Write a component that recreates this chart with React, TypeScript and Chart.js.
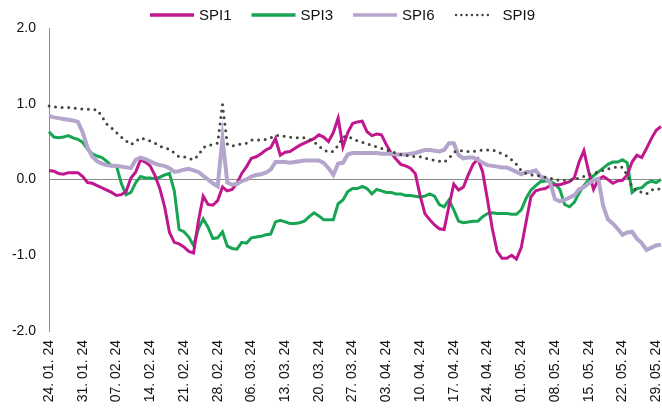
import React, { useEffect, useRef } from "react";
import { Chart, registerables } from "chart.js";

Chart.register(...registerables);

// Daily observations, first day 24.01.2024
const START_YEAR = 2024;
const START_MONTH = 0;
const START_DAY = 24;

const SPI1 = [
  0.12, 0.11, 0.08, 0.07, 0.09, 0.09, 0.09, 0.04, -0.04, -0.05,
  -0.08, -0.11, -0.14, -0.17, -0.21, -0.20, -0.16, 0.02, 0.10, 0.26,
  0.23, 0.18, 0.05, -0.12, -0.36, -0.70, -0.83, -0.85, -0.89, -0.95,
  -0.97, -0.55, -0.22, -0.33, -0.34, -0.28, -0.10, -0.15, -0.13,
  -0.05, 0.08, 0.17, 0.28, 0.30, 0.34, 0.39, 0.42, 0.54, 0.32,
  0.36, 0.37, 0.41, 0.45, 0.48, 0.51, 0.54, 0.59, 0.56, 0.50,
  0.62, 0.81, 0.43, 0.62, 0.74, 0.76, 0.77, 0.63, 0.58, 0.60,
  0.59, 0.46, 0.35, 0.27, 0.20, 0.18, 0.15, 0.08, -0.21, -0.45,
  -0.53, -0.60, -0.65, -0.66, -0.35, -0.06, -0.14, -0.10, 0.06, 0.20,
  0.27, 0.10, -0.27, -0.65, -0.95, -1.04, -1.04, -1.00, -1.05, -0.90,
  -0.56, -0.23, -0.15, -0.13, -0.12, -0.08, -0.07, -0.07, -0.05,
  -0.03, 0.02, 0.23, 0.38, 0.10, -0.13, 0.00, 0.04, 0.00, -0.05,
  -0.02, -0.01, 0.06, 0.23, 0.32, 0.29, 0.41, 0.54, 0.65, 0.70,
];

const SPI3 = [
  0.63, 0.56, 0.55, 0.56, 0.58, 0.55, 0.53, 0.49, 0.40, 0.34,
  0.31, 0.29, 0.24, 0.18, 0.18, -0.05, -0.20, -0.17, -0.04, 0.04,
  0.02, 0.02, 0.01, 0.03, 0.06, 0.08, -0.15, -0.66, -0.69, -0.76,
  -0.87, -0.65, -0.52, -0.63, -0.78, -0.77, -0.69, -0.88, -0.91,
  -0.92, -0.83, -0.84, -0.77, -0.76, -0.75, -0.73, -0.72, -0.56, -0.54,
  -0.56, -0.58, -0.58, -0.57, -0.55, -0.49, -0.44, -0.48, -0.53, -0.53,
  -0.53, -0.32, -0.27, -0.16, -0.12, -0.12, -0.09, -0.12, -0.19, -0.13,
  -0.15, -0.17, -0.17, -0.19, -0.19, -0.21, -0.21, -0.22, -0.23, -0.22,
  -0.19, -0.22, -0.33, -0.36, -0.27, -0.40, -0.55, -0.57, -0.56, -0.55,
  -0.55, -0.49, -0.45, -0.44, -0.45, -0.45, -0.45, -0.46, -0.46, -0.40,
  -0.25, -0.14, -0.08, -0.03, -0.02, -0.02, -0.06, -0.13, -0.33,
  -0.36, -0.30, -0.18, -0.08, 0.00, 0.05, 0.10, 0.15, 0.20, 0.23,
  0.23, 0.26, 0.22, -0.17, -0.12, -0.11, -0.05, -0.02, -0.04, 0.00,
];

const SPI6 = [
  0.84, 0.82, 0.81, 0.80, 0.79, 0.78, 0.76, 0.62, 0.42, 0.30,
  0.24, 0.21, 0.19, 0.18, 0.18, 0.17, 0.16, 0.15, 0.26, 0.29,
  0.27, 0.24, 0.21, 0.19, 0.18, 0.15, 0.10, 0.11, 0.13, 0.14,
  0.12, 0.10, 0.05, 0.00, -0.05, -0.09, 0.54, -0.04, -0.07,
  -0.06, -0.02, 0.00, 0.04, 0.06, 0.07, 0.09, 0.13, 0.23, 0.23,
  0.23, 0.22, 0.23, 0.24, 0.25, 0.25, 0.25, 0.25, 0.22, 0.15,
  0.06, 0.21, 0.22, 0.33, 0.35, 0.35, 0.35, 0.35, 0.35, 0.35,
  0.34, 0.34, 0.34, 0.33, 0.33, 0.33, 0.34, 0.35, 0.37, 0.39,
  0.39, 0.38, 0.37, 0.39, 0.48, 0.48, 0.32, 0.28, 0.29, 0.29,
  0.26, 0.22, 0.19, 0.18, 0.17, 0.16, 0.16, 0.13, 0.10, 0.07,
  0.10, 0.10, 0.12, 0.04, 0.02, -0.04, -0.26, -0.29, -0.27,
  -0.24, -0.21, -0.13, -0.10, -0.05, -0.01, 0.01, -0.35, -0.53, -0.58,
  -0.65, -0.73, -0.70, -0.69, -0.78, -0.84, -0.93, -0.90, -0.87, -0.86,
];

const SPI9 = [
  0.97, 0.96, 0.95, 0.95, 0.95, 0.94, 0.94, 0.93, 0.93, 0.92,
  0.92, 0.83, 0.73, 0.68, 0.62, 0.56, 0.51, 0.46, 0.50, 0.55,
  0.53, 0.51, 0.48, 0.44, 0.42, 0.40, 0.35, 0.30, 0.30, 0.28,
  0.26, 0.32, 0.42, 0.45, 0.46, 0.48, 0.99, 0.47, 0.44,
  0.46, 0.47, 0.48, 0.52, 0.52, 0.52, 0.53, 0.55, 0.58, 0.58,
  0.57, 0.56, 0.55, 0.55, 0.55, 0.53, 0.50, 0.44, 0.39, 0.36,
  0.37, 0.45, 0.56, 0.57, 0.54, 0.51, 0.49, 0.47, 0.45, 0.43,
  0.41, 0.39, 0.37, 0.35, 0.33, 0.32, 0.31, 0.30, 0.30, 0.28,
  0.27, 0.25, 0.24, 0.23, 0.28, 0.36, 0.38, 0.38, 0.37, 0.37,
  0.38, 0.39, 0.39, 0.39, 0.37, 0.34, 0.31, 0.26, 0.20, 0.12,
  0.08, 0.06, 0.06, 0.04, 0.03, 0.02, 0.00, -0.01, -0.01,
  -0.01, 0.00, 0.02, 0.04, 0.06, 0.08, 0.10, 0.12, 0.14, 0.15,
  0.17, 0.16, 0.06, -0.10, -0.15, -0.17, -0.19, -0.14, -0.12, -0.13,
];

const SERIES_NAMES = ["SPI1", "SPI3", "SPI6", "SPI9"];
const Y_MIN = -2;
const Y_MAX = 2;
const Y_STEP = 1;
const FIRST_LABELLED_DAY = 0; // 24.01.24
const LABEL_EVERY = 7;

const pad2 = (n: number) => (n < 10 ? "0" + n : String(n));
const DAY_LABELS: string[] = SPI1.map((_, i) => {
  const d = new Date(START_YEAR, START_MONTH, START_DAY + i);
  return `${pad2(d.getDate())}. ${pad2(d.getMonth() + 1)}. ${pad2(d.getFullYear() % 100)}`;
});

const FONT = '"Liberation Sans", Arial, Helvetica, sans-serif';

const legendPlugin = {
  id: "customLegend",
  afterDraw(chart: any) {
    const ctx = chart.ctx as CanvasRenderingContext2D;
    ctx.save();
    ctx.font = `15px ${FONT}`;
    ctx.textBaseline = "middle";
    ctx.textAlign = "left";
    const y = 15;
    let x = 150;
    chart.data.datasets.forEach((ds: any) => {
      const dotted = !!(ds.borderDash && ds.borderDash.length);
      const len = dotted ? 34 : 44;
      ctx.beginPath();
      ctx.strokeStyle = ds.borderColor;
      ctx.lineWidth = dotted ? 2.5 : 3.5;
      ctx.lineCap = dotted ? "round" : "butt";
      ctx.setLineDash(dotted ? [0, 5.3] : []);
      ctx.moveTo(x + (dotted ? 1.5 : 0), y);
      ctx.lineTo(x + len, y);
      ctx.stroke();
      ctx.setLineDash([]);
      x += len + (dotted ? 14 : 5);
      ctx.fillStyle = "#111";
      ctx.fillText(ds.label, x, y + 1);
      x += ctx.measureText(ds.label).width + 20;
    });
    ctx.restore();
  },
};

export default function App() {
  const canvasRef = useRef<HTMLCanvasElement | null>(null);

  useEffect(() => {
    document.body.style.margin = "0";
    const canvas = canvasRef.current;
    if (!canvas) return;
    const chart = new Chart(canvas, {
      type: "line",
      data: {
        labels: DAY_LABELS,
        datasets: [
          {
            label: SERIES_NAMES[0],
            data: SPI1,
            borderColor: "#C0168E",
            borderWidth: 3,
            pointRadius: 0,
            tension: 0,
            order: 3,
          },
          {
            label: SERIES_NAMES[1],
            data: SPI3,
            borderColor: "#17A554",
            borderWidth: 3,
            pointRadius: 0,
            tension: 0,
            order: 4,
          },
          {
            label: SERIES_NAMES[2],
            data: SPI6,
            borderColor: "#B3A5CB",
            borderWidth: 4,
            pointRadius: 0,
            tension: 0,
            order: 2,
          },
          {
            label: SERIES_NAMES[3],
            data: SPI9,
            borderColor: "#45453A",
            borderWidth: 3,
            borderDash: [0, 6.6],
            borderCapStyle: "round",
            pointRadius: 0,
            tension: 0,
            order: 1,
          },
        ],
      },
      options: {
        responsive: false,
        animation: false,
        layout: { padding: { top: 28, left: 12, right: 1, bottom: 11 } },
        plugins: {
          legend: { display: false },
          tooltip: { enabled: false },
        },
        scales: {
          x: {
            type: "category",
            grid: { display: false },
            border: { display: false },
            afterBuildTicks: (scale: any) => {
              scale.ticks = scale.ticks.filter(
                (t: any) => (t.value - FIRST_LABELLED_DAY) % LABEL_EVERY === 0
              );
            },
            afterFit: (scale: any) => {
              scale.height = 75;
              scale.paddingLeft = 0;
              scale.paddingRight = 0;
            },
            ticks: {
              autoSkip: false,
              minRotation: 90,
              maxRotation: 90,
              padding: 1,
              color: "#111",
              font: { family: FONT, size: 14 },
            },
          },
          y: {
            min: Y_MIN,
            max: Y_MAX,
            afterFit: (scale: any) => {
              scale.width = 37;
              scale.paddingTop = 0;
              scale.paddingBottom = 0;
            },
            grid: {
              drawTicks: false,
              color: (c: any) =>
                c.tick && c.tick.value === 0 ? "#8a8a8a" : "rgba(0,0,0,0)",
              lineWidth: 1,
            },
            border: { display: true, color: "#8a8a8a", width: 1 },
            ticks: {
              stepSize: Y_STEP,
              padding: 13,
              color: "#111",
              font: { family: FONT, size: 14 },
              callback: (v: any) => Number(v).toFixed(1),
            },
          },
        },
      },
      plugins: [legendPlugin],
    });
    return () => chart.destroy();
  }, []);

  return (
    <div style={{ width: 662, height: 417 }}>
      <canvas ref={canvasRef} width={662} height={417} />
    </div>
  );
}
